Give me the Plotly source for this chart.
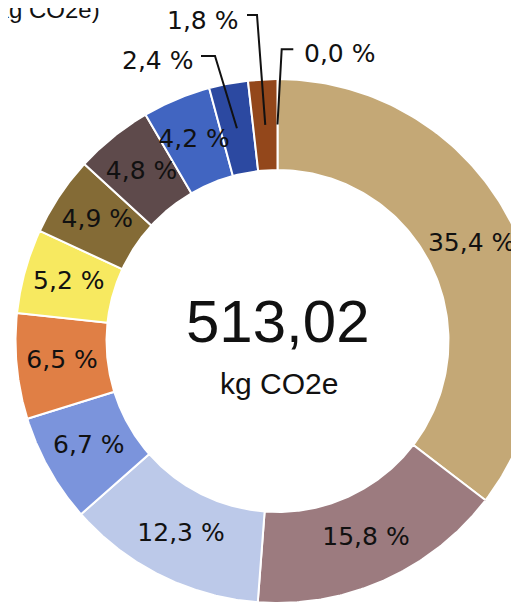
import numpy as np
import plotly.graph_objects as go

# ---- data ----
categories = ["Cat 1", "Cat 2", "Cat 3", "Cat 4", "Cat 5", "Cat 6",
              "Cat 7", "Cat 8", "Cat 9", "Cat 10", "Cat 11", "Cat 12"]
values = [35.4, 15.8, 12.3, 6.7, 6.5, 5.2, 4.9, 4.8, 4.2, 2.4, 1.8, 0.0]
total_value = "513,02"
total_unit = "kg CO2e"
title_text = "(kg CO2e)"

# ---- style ----
colors = ["#C4A876", "#9C7B7F", "#BCC9E9", "#7B94DC", "#E07F45", "#F7E960",
          "#846B36", "#5E4A4B", "#4165C1", "#2C49A1", "#93471B", "#6B3A1E"]

OFF = 8                          # page body margin
W, H = 519 - OFF, 605 - OFF      # canvas size
CX, CY = 277.5, 341.0            # donut centre in page pixels
SCALE = 262.0                    # pixels per data unit (outer radius)
R_OUT, R_IN = 1.0, 171.0 / 262.0
R_MID = (R_OUT + R_IN) / 2


def px2d(px, py):
    return (px - CX) / SCALE, (CY - py) / SCALE


def px2paper(px, py):
    return (px - OFF) / W, 1 - (py - OFF) / H


fig = go.Figure()

vals = np.array(values, dtype=float)
frac = vals / vals.sum()
starts = np.concatenate([[0], np.cumsum(frac)[:-1]]) * 2 * np.pi
ends = np.cumsum(frac) * 2 * np.pi

for cat, v, a0, a1, col in zip(categories, values, starts, ends, colors):
    if v <= 0:
        continue
    th = np.linspace(a0, a1, 120)
    xs = np.concatenate([R_OUT * np.sin(th), R_IN * np.sin(th[::-1])])
    ys = np.concatenate([R_OUT * np.cos(th), R_IN * np.cos(th[::-1])])
    fig.add_trace(go.Scatter(x=np.append(xs, xs[0]), y=np.append(ys, ys[0]),
                             mode="lines", fill="toself", fillcolor=col,
                             line=dict(color="white", width=2),
                             name=cat, hoverinfo="skip", showlegend=False))

mids = (starts + ends) / 2
labels = [f"{v:.1f}".replace(".", ",") + " %" for v in values]
inside = [v >= 3 for v in values]

pct_font = dict(family="DejaVu Sans", size=25, color="#111111")

fig.add_trace(go.Scatter(
    x=[R_MID * np.sin(m) for m, ins in zip(mids, inside) if ins],
    y=[R_MID * np.cos(m) for m, ins in zip(mids, inside) if ins],
    mode="text", text=[l for l, ins in zip(labels, inside) if ins],
    textposition="middle center", textfont=pct_font,
    hoverinfo="skip", showlegend=False))

# outside labels: (elbow px, line end px, text anchor px, xanchor)
outside_layout = {
    9: ((215, 56), (201, 56), (195, 60), "right"),
    10: ((257, 15), (247, 15), (240, 20), "right"),
    11: ((281.7, 49.3), (293.3, 49.3), (302, 53), "left"),
}
for i, (elbow, lend, tpos, xa) in outside_layout.items():
    sx, sy = R_MID * np.sin(mids[i]), R_MID * np.cos(mids[i])
    ex, ey = px2d(*elbow)
    lx, ly = px2d(*lend)
    fig.add_trace(go.Scatter(x=[sx, ex, lx], y=[sy, ey, ly], mode="lines",
                             line=dict(color="#111111", width=2),
                             hoverinfo="skip", showlegend=False))
    tx, ty = px2d(*tpos)
    fig.add_annotation(x=tx, y=ty, xref="x", yref="y", text=labels[i],
                       showarrow=False, xanchor=xa, yanchor="middle",
                       font=pct_font)

cx0, cy0 = px2d(277.5, 321.5)
fig.add_annotation(x=cx0, y=cy0, xref="x", yref="y", text=total_value,
                   showarrow=False, xanchor="center", yanchor="middle",
                   font=dict(family="Liberation Sans", size=60, color="#111111"))
cx1, cy1 = px2d(279, 383)
fig.add_annotation(x=cx1, y=cy1, xref="x", yref="y", text=total_unit,
                   showarrow=False, xanchor="center", yanchor="middle",
                   font=dict(family="Liberation Sans", size=30, color="#111111"))

tx, ty = px2paper(102, 9)
fig.add_annotation(x=tx, y=ty, xref="paper", yref="paper",
                   text=title_text, showarrow=False, xanchor="right",
                   yanchor="middle",
                   font=dict(family="Liberation Sans", size=24, color="#111111"))

x0, y1 = px2d(OFF, OFF)
x1, y0 = px2d(OFF + W, OFF + H)
fig.update_layout(
    width=W, height=H, margin=dict(l=0, r=0, t=0, b=0),
    paper_bgcolor="white", plot_bgcolor="white",
    xaxis=dict(range=[x0, x1], visible=False, fixedrange=True),
    yaxis=dict(range=[y0, y1], visible=False, fixedrange=True),
    showlegend=False,
)

fig.write_html("out.html")
